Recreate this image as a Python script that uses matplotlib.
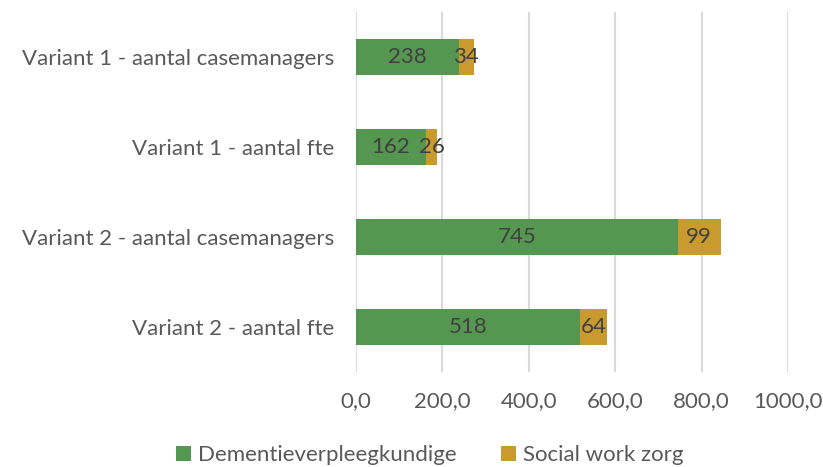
import matplotlib
matplotlib.use("Agg")
import matplotlib.pyplot as plt
import numpy as np

categories = ["Variant 1 - aantal casemanagers", "Variant 1 - aantal fte",
              "Variant 2 - aantal casemanagers", "Variant 2 - aantal fte"]
dementie = [238, 162, 745, 518]
social = [34, 26, 99, 64]
series_names = ["Dementieverpleegkundige", "Social work zorg"]
xticks = [0, 200, 400, 600, 800, 1000]

green = "#559651"
gold = "#C99A2E"
txt = "#595959"

plt.rcParams['font.family'] = ['Lato', 'DejaVu Sans']

fig = plt.figure(figsize=(8.23, 4.67), dpi=100)
ax = fig.add_axes([0.4326, 0.2034, 0.5249, 0.7709])

y = np.arange(len(categories))
h = 0.4
b1 = ax.barh(y, dementie, height=h, color=green, label=series_names[0], zorder=3)
b2 = ax.barh(y, social, left=dementie, height=h, color=gold, label=series_names[1], zorder=3)

for i in range(len(categories)):
    ax.text(dementie[i] / 2, y[i], str(dementie[i]), ha="center", va="center",
            fontsize=16, color="#404040", zorder=4)
    ax.text(dementie[i] + social[i] / 2, y[i], str(social[i]), ha="center", va="center",
            fontsize=16, color="#404040", zorder=4)

ax.set_ylim(3.5, -0.5)
ax.set_xlim(0, 1000)
ax.set_xticks(xticks)
ax.set_xticklabels([f"{v},0" for v in xticks])
ax.set_yticks(y)
ax.set_yticklabels(categories)
ax.tick_params(axis="x", length=0, pad=14, labelsize=16, colors=txt)
ax.tick_params(axis="y", length=0, pad=16, labelsize=16, colors=txt)
ax.grid(axis="x", color="#D9D9D9", linewidth=1.5, zorder=0)
for s in ax.spines.values():
    s.set_visible(False)

fig.legend(handles=[b1, b2], labels=series_names, loc="center",
           bbox_to_anchor=(0.522, 0.025), ncol=2, frameon=False,
           fontsize=16, labelcolor=txt, handlelength=0.7, handleheight=0.7,
           handletextpad=0.3, columnspacing=2.0)

fig.savefig("out.png", dpi=100)
